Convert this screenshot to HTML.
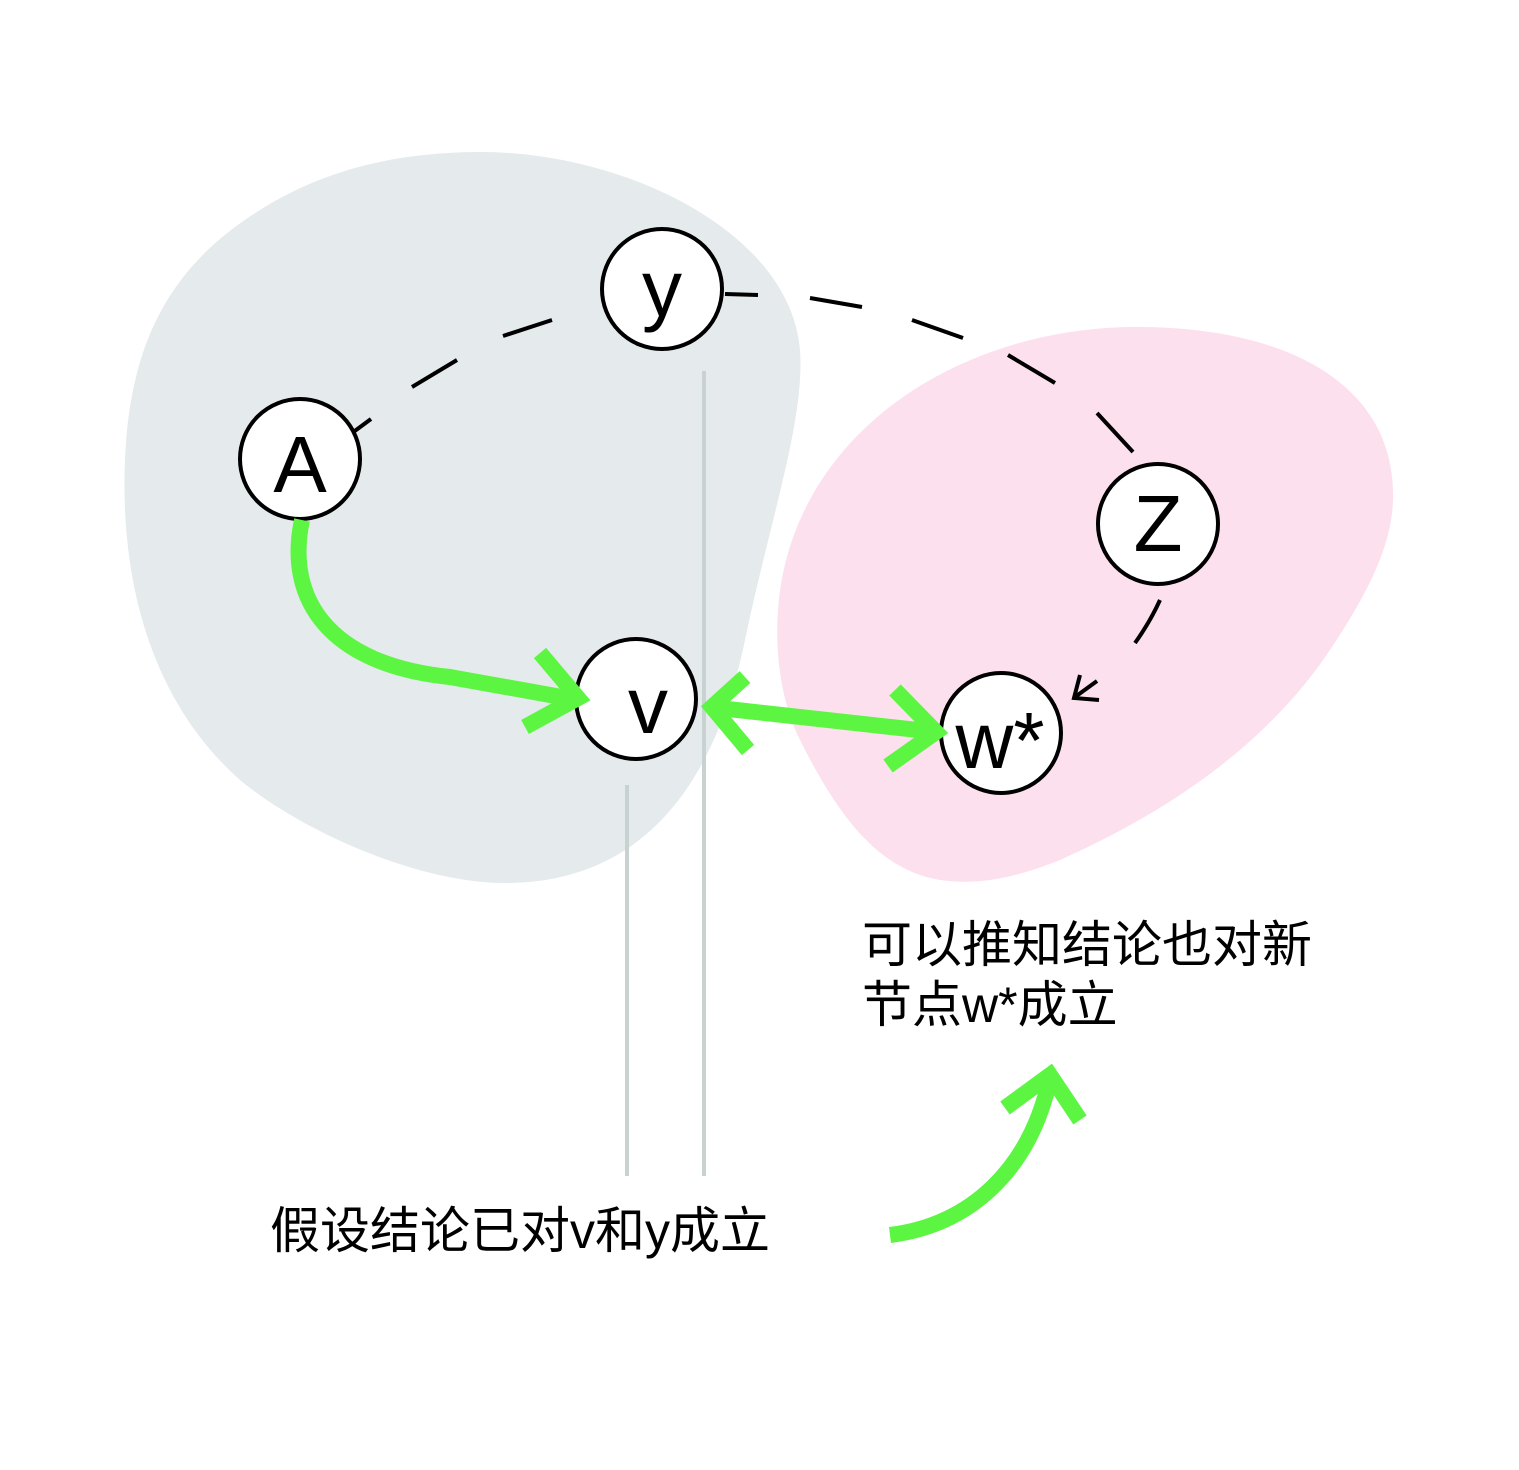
<!DOCTYPE html>
<html><head><meta charset="utf-8"><style>body{margin:0;background:#fff}svg{display:block}</style></head><body>
<svg width="1519" height="1470" viewBox="0 0 1519 1470" xmlns="http://www.w3.org/2000/svg">
<path d="M475,152 C620,150 790,230 800,350 C805,420 770,520 745,640 C720,760 660,880 510,883 C420,885 300,830 240,780 C150,700 120,580 125,460 C130,330 180,260 260,210 C320,172 390,153 475,152 Z" fill="#e5eaec"/>
<path d="M1130,327 C1280,325 1390,380 1393,490 C1395,540 1370,590 1330,650 C1260,755 1150,820 1060,860 C1010,880 975,885 940,880 C880,870 840,820 800,740 C780,700 775,650 778,610 C790,440 950,330 1130,327 Z" fill="#fde0ee"/>
<g stroke="#c8d3d1" stroke-width="4"><line x1="704" y1="371" x2="704" y2="1176"/><line x1="627" y1="785" x2="627" y2="1176"/></g>
<g stroke="#000" stroke-width="4" fill="none">
<line x1="352" y1="433" x2="371" y2="419"/><line x1="412" y1="387" x2="457" y2="360"/><line x1="503" y1="336" x2="552" y2="320"/>
<line x1="725" y1="294" x2="758" y2="295"/><line x1="810" y1="298" x2="862" y2="307"/><line x1="912" y1="320" x2="963" y2="338"/><line x1="1008" y1="355" x2="1055" y2="383"/><line x1="1097" y1="413" x2="1133" y2="452"/>
<path d="M1160,600 Q1150,622 1135,643"/>
<polyline points="1080,675 1074,698 1099,700"/>
<line x1="1075" y1="697" x2="1097" y2="681"/>
</g>
<g fill="#fff" stroke="#000" stroke-width="4">
<circle cx="662" cy="289" r="60"/><circle cx="300" cy="459" r="60"/><circle cx="1158" cy="524" r="60"/><circle cx="636" cy="699" r="60"/><circle cx="1001" cy="733" r="60"/>
</g>
<g font-family="Liberation Sans, sans-serif" font-size="80" fill="#000" text-anchor="middle">
<text x="662" y="316">y</text><text x="300" y="492">A</text><text x="1158" y="551">Z</text><text x="648" y="733">v</text><text x="1000" y="768">w*</text>
</g>
<g stroke="#5cf542" stroke-width="16" fill="none">
<path d="M302,520 C285,600 330,665 450,677 L578,700"/>
<polyline points="540,653 578,698 525,727"/>
<line x1="710" y1="707" x2="936" y2="732"/>
<polyline points="745,677 712,707 748,750"/>
<polyline points="895,690 936,732 888,766"/>
<path d="M890,1235 C970,1225 1030,1170 1050,1078"/>
<polyline points="1005,1108 1050,1075 1080,1120"/>
</g>
<g font-family="Liberation Sans, Noto Sans CJK SC, sans-serif" font-size="50" fill="#000">
<text x="270" y="1248">假设结论已对v和y成立</text>
<text x="862" y="962">可以推知结论也对新</text>
<text x="862" y="1022">节点w*成立</text>
</g>
</svg>
</body></html>
